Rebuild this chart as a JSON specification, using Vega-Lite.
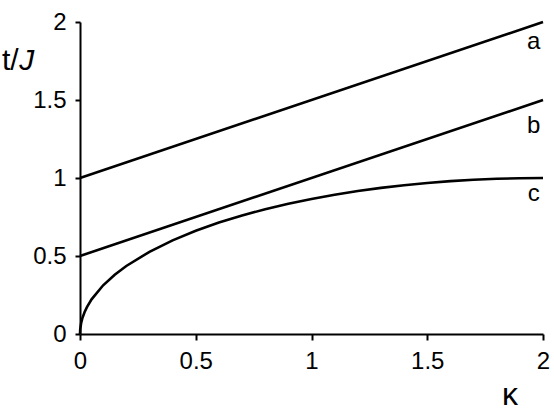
{
  "$schema": "https://vega.github.io/schema/vega-lite/v6.json",
  "width": 463,
  "height": 312,
  "autosize": "none",
  "padding": {"left": 80, "top": 22, "right": 11, "bottom": 84},
  "config": {
    "view": {"stroke": null},
    "font": "Liberation Sans",
    "axis": {
      "grid": false,
      "domainColor": "black",
      "domainWidth": 2,
      "tickColor": "black",
      "tickWidth": 2,
      "tickSize": 6,
      "labelFont": "Liberation Sans",
      "labelFontSize": 24,
      "labelColor": "black",
      "title": null
    }
  },
  "datasets": {
    "curves": [
      {"k": 0, "t": 1, "s": "a"}, {"k": 2, "t": 2, "s": "a"},
      {"k": 0, "t": 0.5, "s": "b"}, {"k": 2, "t": 1.5, "s": "b"},
      {"k": 0, "t": 0, "s": "c"}, {"k": 0.001, "t": 0.0316, "s": "c"},
      {"k": 0.005, "t": 0.0707, "s": "c"}, {"k": 0.01, "t": 0.0999, "s": "c"},
      {"k": 0.02, "t": 0.1411, "s": "c"}, {"k": 0.03, "t": 0.1726, "s": "c"},
      {"k": 0.05, "t": 0.2222, "s": "c"}, {"k": 0.1, "t": 0.3122, "s": "c"},
      {"k": 0.15, "t": 0.38, "s": "c"}, {"k": 0.2, "t": 0.4359, "s": "c"},
      {"k": 0.3, "t": 0.5268, "s": "c"}, {"k": 0.4, "t": 0.6, "s": "c"},
      {"k": 0.5, "t": 0.6614, "s": "c"}, {"k": 0.6, "t": 0.7141, "s": "c"},
      {"k": 0.7, "t": 0.7599, "s": "c"}, {"k": 0.8, "t": 0.8, "s": "c"},
      {"k": 0.9, "t": 0.8352, "s": "c"}, {"k": 1.0, "t": 0.866, "s": "c"},
      {"k": 1.1, "t": 0.893, "s": "c"}, {"k": 1.2, "t": 0.9165, "s": "c"},
      {"k": 1.3, "t": 0.9367, "s": "c"}, {"k": 1.4, "t": 0.9539, "s": "c"},
      {"k": 1.5, "t": 0.9682, "s": "c"}, {"k": 1.6, "t": 0.9798, "s": "c"},
      {"k": 1.7, "t": 0.9887, "s": "c"}, {"k": 1.8, "t": 0.995, "s": "c"},
      {"k": 1.9, "t": 0.9987, "s": "c"}, {"k": 2.0, "t": 1.0, "s": "c"}
    ],
    "labels": [
      {"k": 1.96, "t": 1.83, "txt": "a"},
      {"k": 1.96, "t": 1.29, "txt": "b"},
      {"k": 1.96, "t": 0.85, "txt": "c"}
    ]
  },
  "layer": [
    {
      "data": {"name": "curves"},
      "mark": {"type": "line", "color": "black", "strokeWidth": 2.6, "clip": false},
      "encoding": {
        "x": {"field": "k", "type": "quantitative", "scale": {"domain": [0, 2], "nice": false},
              "axis": {"values": [0, 0.5, 1, 1.5, 2], "format": "~g", "labelPadding": 9, "labelFlush": false}},
        "y": {"field": "t", "type": "quantitative", "scale": {"domain": [0, 2], "nice": false},
              "axis": {"values": [0, 0.5, 1, 1.5, 2], "format": "~g", "tickSize": 5, "labelPadding": 9}},
        "detail": {"field": "s"}
      }
    },
    {
      "data": {"name": "labels"},
      "mark": {"type": "text", "fontSize": 24, "color": "black", "align": "center", "baseline": "alphabetic", "clip": false},
      "encoding": {
        "x": {"field": "k", "type": "quantitative"},
        "y": {"field": "t", "type": "quantitative"},
        "text": {"field": "txt"}
      }
    },
    {
      "data": {"values": [{"k": -0.337, "t": 1.69, "txt": "t/"}]},
      "mark": {"type": "text", "color": "black", "fontSize": 30, "align": "left", "baseline": "alphabetic", "clip": false},
      "encoding": {
        "x": {"field": "k", "type": "quantitative"},
        "y": {"field": "t", "type": "quantitative"},
        "text": {"field": "txt"}
      }
    },
    {
      "data": {"values": [{"k": -0.262, "t": 1.69, "txt": "J"}]},
      "mark": {"type": "text", "color": "black", "fontSize": 30, "fontStyle": "italic", "align": "left", "baseline": "alphabetic", "clip": false},
      "encoding": {
        "x": {"field": "k", "type": "quantitative"},
        "y": {"field": "t", "type": "quantitative"},
        "text": {"field": "txt"}
      }
    },
    {
      "data": {"values": [{"k": 1.857, "t": -0.455, "txt": "κ"}]},
      "mark": {"type": "text", "color": "black", "fontSize": 32, "align": "center", "baseline": "alphabetic", "clip": false},
      "encoding": {
        "x": {"field": "k", "type": "quantitative"},
        "y": {"field": "t", "type": "quantitative"},
        "text": {"field": "txt"}
      }
    }
  ]
}
